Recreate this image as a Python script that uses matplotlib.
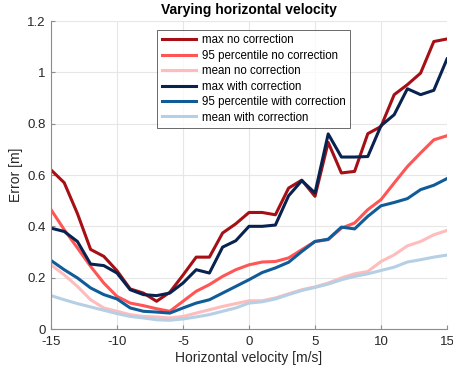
import numpy as np
import matplotlib
matplotlib.use("Agg")
import matplotlib.pyplot as plt

plt.rcParams["font.family"] = ["Liberation Sans", "DejaVu Sans"]
plt.rcParams["axes.unicode_minus"] = False

# horizontal velocity [m/s]
velocity = list(range(-15, 16))

max_no_corr = [0.62, 0.57, 0.45, 0.31, 0.283, 0.227, 0.156, 0.14, 0.108, 0.143, 0.21,
               0.28, 0.28, 0.374, 0.41, 0.454, 0.454, 0.445, 0.549, 0.58, 0.517,
               0.727, 0.608, 0.614, 0.761, 0.789, 0.913, 0.952, 0.997, 1.12, 1.13]
p95_no_corr = [0.465, 0.387, 0.316, 0.244, 0.179, 0.127, 0.101, 0.091, 0.079, 0.069, 0.108,
               0.147, 0.173, 0.205, 0.231, 0.25, 0.261, 0.263, 0.277, 0.309, 0.341,
               0.348, 0.393, 0.413, 0.465, 0.504, 0.569, 0.633, 0.686, 0.737, 0.753]
mean_no_corr = [0.25, 0.211, 0.166, 0.114, 0.082, 0.069, 0.056, 0.049, 0.047, 0.043, 0.049,
                0.062, 0.075, 0.088, 0.099, 0.11, 0.11, 0.121, 0.137, 0.153, 0.164,
                0.179, 0.199, 0.215, 0.224, 0.263, 0.289, 0.324, 0.341, 0.367, 0.384]
max_corr = [0.393, 0.38, 0.341, 0.253, 0.247, 0.218, 0.153, 0.134, 0.13, 0.14, 0.179,
            0.231, 0.218, 0.319, 0.344, 0.40, 0.40, 0.405, 0.519, 0.578, 0.53,
            0.76, 0.67, 0.67, 0.672, 0.792, 0.835, 0.936, 0.913, 0.93, 1.052]
p95_corr = [0.267, 0.231, 0.199, 0.16, 0.134, 0.117, 0.082, 0.069, 0.066, 0.062, 0.082,
            0.101, 0.114, 0.14, 0.166, 0.192, 0.22, 0.238, 0.26, 0.302, 0.341,
            0.35, 0.397, 0.39, 0.439, 0.48, 0.493, 0.508, 0.543, 0.56, 0.586]
mean_corr = [0.13, 0.114, 0.099, 0.086, 0.073, 0.06, 0.049, 0.043, 0.036, 0.034, 0.039,
             0.047, 0.056, 0.069, 0.082, 0.101, 0.106, 0.117, 0.134, 0.15, 0.162,
             0.175, 0.192, 0.205, 0.215, 0.228, 0.241, 0.261, 0.27, 0.28, 0.288]

series = [
    (max_no_corr, "max no correction", "#a50f15"),
    (p95_no_corr, "95 percentile no correction", "#ff5555"),
    (mean_no_corr, "mean no correction", "#ffbcbc"),
    (max_corr, "max with correction", "#08234f"),
    (p95_corr, "95 percentile with correction", "#0f5c99"),
    (mean_corr, "mean with correction", "#b5cfe5"),
]

fig = plt.figure(figsize=(4.53, 3.76), dpi=100)
ax = fig.add_axes([51 / 453, 47 / 376, 396 / 453, 308 / 376])

for values, label, color in series:
    ax.plot(velocity, values, color=color, lw=2.2, label=label)

ax.set_xlim(-15, 15)
ax.set_ylim(0, 1.2)
ax.set_xticks(np.arange(-15, 16, 5))
ax.set_yticks([0, 0.2, 0.4, 0.6, 0.8, 1.0, 1.2])
ax.set_yticklabels(["0", "0.2", "0.4", "0.6", "0.8", "1", "1.2"])
ax.grid(True, color="#e6e6e6", lw=0.8)
ax.set_axisbelow(True)
for side in ["top", "right"]:
    ax.spines[side].set_visible(False)
for side in ["left", "bottom"]:
    ax.spines[side].set_color("#8c8c8c")
ax.tick_params(direction="in", length=3, colors="#8c8c8c", labelcolor="#262626",
               labelsize=9.5)
ax.tick_params(axis="x", pad=5)
ax.tick_params(axis="y", pad=4)

ax.set_xlabel("Horizontal velocity [m/s]", fontsize=10, color="#262626", labelpad=2)
ax.set_ylabel("Error [m]", fontsize=10, color="#262626", labelpad=3)
ax.set_title("Varying horizontal velocity", fontsize=10, fontweight="bold", pad=5)

leg = ax.legend(loc="upper left", bbox_to_anchor=(0.268, 0.972), borderaxespad=0,
                fontsize=8.3, frameon=True, fancybox=False, handlelength=3.0,
                handletextpad=0.45, labelspacing=0.3, borderpad=0.4)
leg.get_frame().set_edgecolor("#262626")
leg.get_frame().set_linewidth(0.6)

fig.savefig("out.png", dpi=100)
